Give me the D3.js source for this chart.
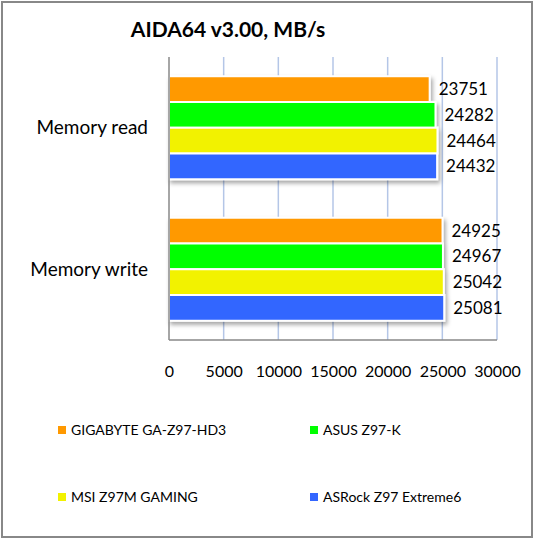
<!DOCTYPE html>
<html>
<head>
<meta charset="utf-8">
<script src="https://cdn.jsdelivr.net/npm/d3@7"></script>
<style>
  body { margin: 0; background: #fff; }
  text { font-family: Lato, "Open Sans", sans-serif; fill: #000; }
</style>
</head>
<body>
<script>
var w = 535;
var h = 540;

// data
var categories = ["Memory read", "Memory write"];
var boards = ["GIGABYTE GA-Z97-HD3", "ASUS Z97-K", "MSI Z97M GAMING", "ASRock Z97 Extreme6"];
var colors = ["#ff9900", "#00ff00", "#f2f200", "#3366ff"];
var readValues = [23751, 24282, 24464, 24432];
var writeValues = [24925, 24967, 25042, 25081];
var tickValues = [0, 5000, 10000, 15000, 20000, 25000, 30000];

var seriesByCat = [readValues, writeValues];

var svg = d3.select("body").append("svg")
    .attr("width", w)
    .attr("height", h);

// ombre des barres
var defs = svg.append("defs");
defs.append("filter").attr("id", "shadow")
    .attr("x", "-5%").attr("y", "-5%").attr("width", "115%").attr("height", "120%")
  .append("feDropShadow")
    .attr("dx", 2).attr("dy", 3).attr("stdDeviation", 2)
    .attr("flood-color", "#000").attr("flood-opacity", 0.35);

// cadre
svg.append("rect")
    .attr("x", 2).attr("y", 2)
    .attr("width", 530).attr("height", 535)
    .attr("fill", "none")
    .attr("stroke", "#888").attr("stroke-width", 2);

// titre
svg.append("text")
    .attr("x", 228).attr("y", 37)
    .attr("text-anchor", "middle")
    .style("font-size", "21px")
    .style("font-weight", "bold")
    .text("AIDA64 v3.00, MB/s");

var x = d3.scaleLinear().domain([0, 30000]).range([169, 497]);
var y = d3.scaleBand().domain(categories).range([57, 340])
    .paddingInner(0.286).paddingOuter(0.143);
var ySub = d3.scaleBand().domain(boards).range([0, y.bandwidth() + 2]);

// grille
svg.selectAll(".grid").data(tickValues.slice(1)).enter().append("line")
    .attr("x1", d => x(d)).attr("x2", d => x(d))
    .attr("y1", 57).attr("y2", 340)
    .attr("stroke", "#b4c6e7").attr("stroke-width", 1.5);

// barres
categories.forEach(function(cat, ci) {
    var g = svg.append("g")
        .attr("transform", "translate(0," + y(cat) + ")")
        .attr("filter", "url(#shadow)");
    g.selectAll("rect").data(seriesByCat[ci]).enter().append("rect")
        .attr("x", x(0))
        .attr("y", (d, i) => ySub(boards[i]) - 1)
        .attr("width", d => x(d) - x(0) + 1)
        .attr("height", ySub.bandwidth())
        .attr("fill", (d, i) => colors[i])
        .attr("stroke", "#fff").attr("stroke-width", 2);

    svg.selectAll(".lbl" + ci).data(seriesByCat[ci]).enter().append("text")
        .attr("x", d => x(d) + 10)
        .attr("y", (d, i) => y(cat) + ySub(boards[i]) + ySub.bandwidth() / 2 - 1)
        .attr("dy", "0.35em")
        .style("font-size", "17px")
        .text(d => d);

    svg.append("text")
        .attr("x", 148)
        .attr("y", y(cat) + y.bandwidth() / 2)
        .attr("dy", "0.35em")
        .attr("text-anchor", "end")
        .style("font-size", "19px")
        .text(cat);
});

// axes
svg.append("line")
    .attr("x1", x(0)).attr("x2", x(0)).attr("y1", 57).attr("y2", 340)
    .attr("stroke", "#888").attr("stroke-width", 1.5);
svg.append("line")
    .attr("x1", x(0)).attr("x2", x(30000)).attr("y1", 340).attr("y2", 340)
    .attr("stroke", "#888").attr("stroke-width", 1.5);

var xAxis = svg.append("g")
    .attr("transform", "translate(0,363)")
    .call(d3.axisBottom(x).tickValues(tickValues).tickSize(0).tickFormat(d3.format("d")));
xAxis.select(".domain").remove();
xAxis.selectAll("text")
    .style("font-family", "Lato, 'Open Sans', sans-serif")
    .style("font-size", "16px")
    .attr("fill", "#000");

// legende
var legendPos = [[58, 430], [310, 430], [58, 497], [310, 497]];
boards.forEach(function(b, i) {
    var lg = svg.append("g").attr("transform", "translate(" + legendPos[i][0] + "," + legendPos[i][1] + ")");
    lg.append("rect")
        .attr("x", 0).attr("y", -4)
        .attr("width", 8).attr("height", 8)
        .attr("fill", colors[i]);
    lg.append("text")
        .attr("x", 13).attr("y", 0)
        .attr("dy", "0.35em")
        .style("font-size", "14px")
        .text(b);
});
</script>
</body>
</html>
